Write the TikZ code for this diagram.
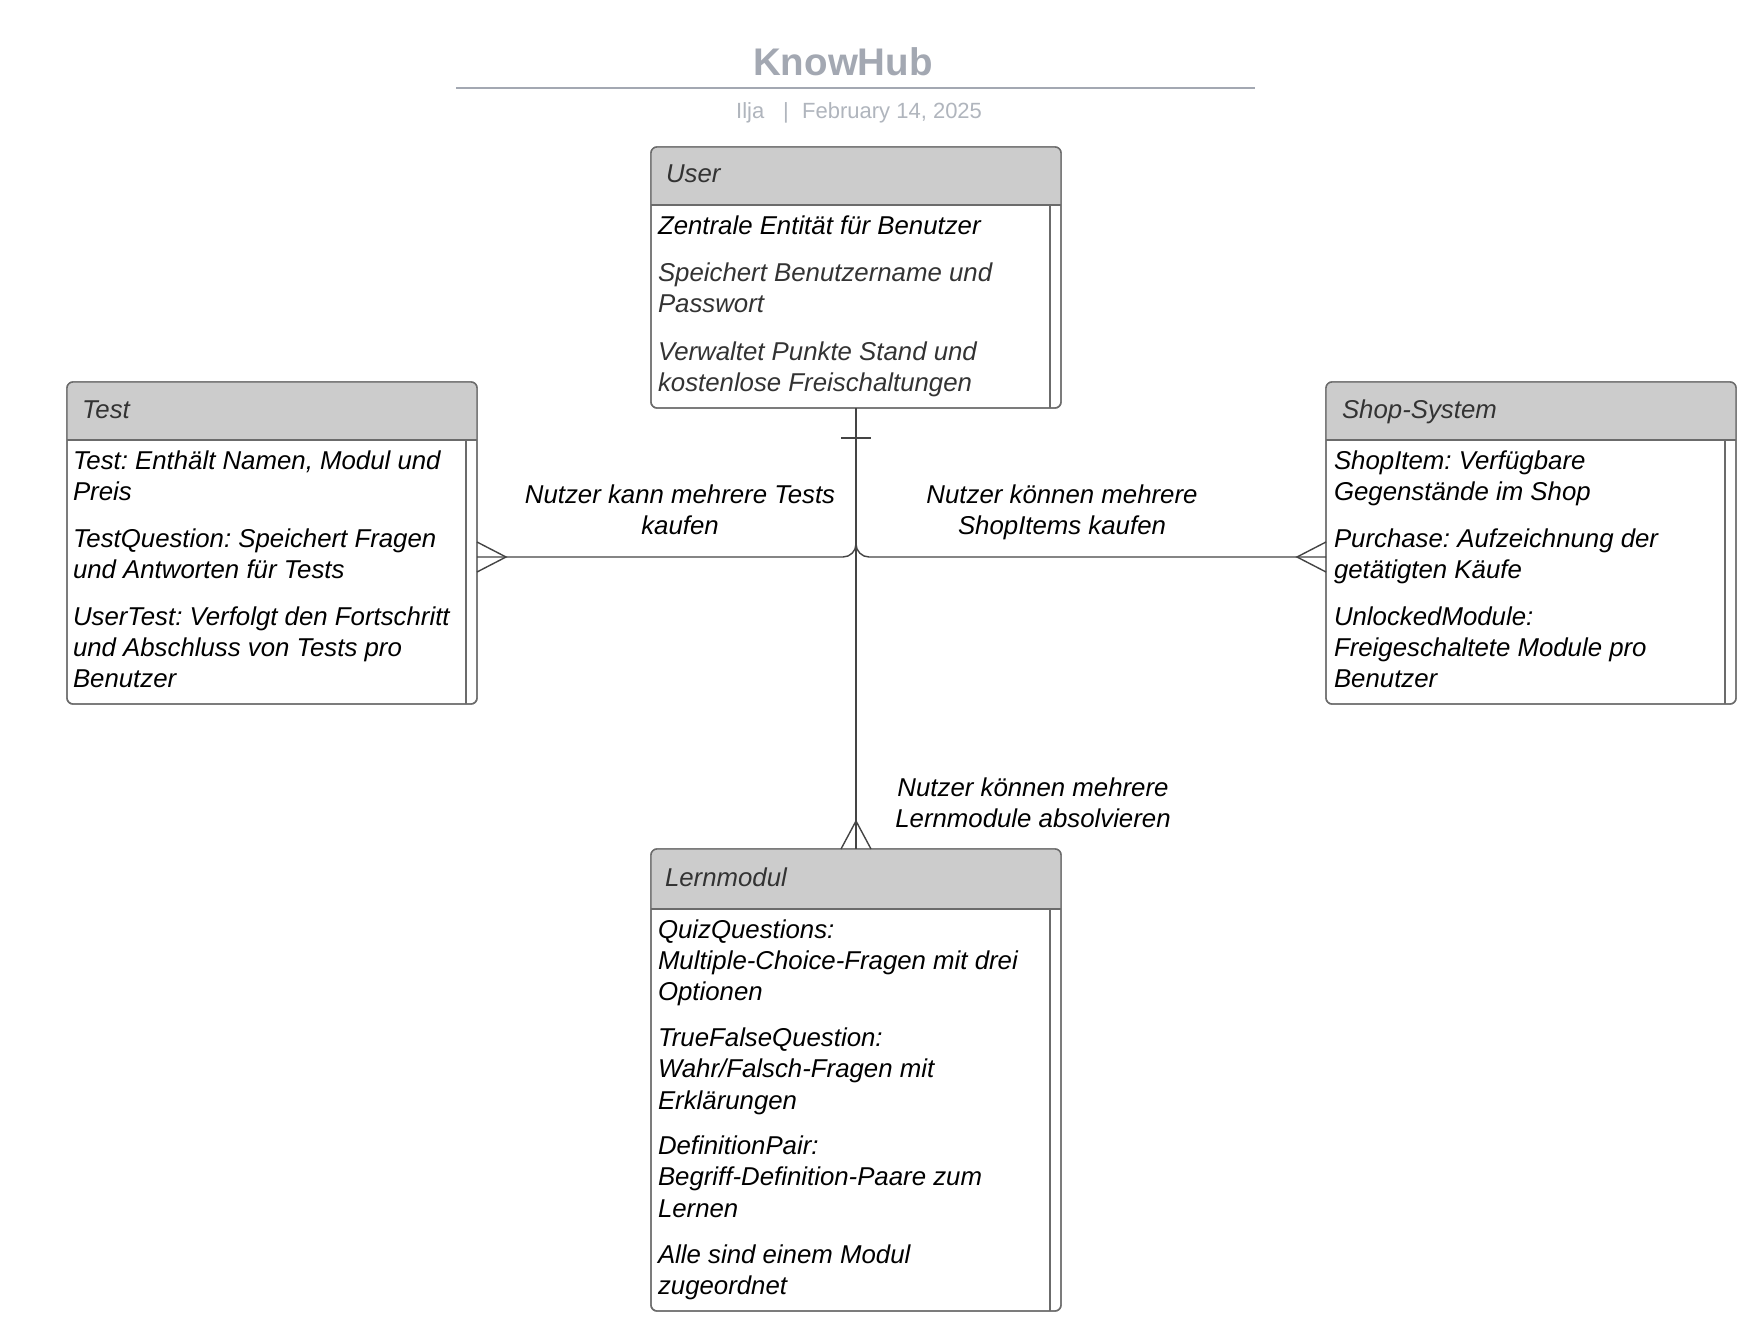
\documentclass[tikz,border=0pt]{standalone}
\usepackage{fontspec}
\setmainfont{Liberation Sans}
\usetikzlibrary{calc}
\frenchspacing

\definecolor{hdrfill}{HTML}{CCCCCC}
\definecolor{boxline}{HTML}{6B6B6B}
\definecolor{wirecol}{HTML}{444444}
\definecolor{titlegray}{HTML}{A3A8B2}
\definecolor{subgray}{HTML}{B0B5BD}
\definecolor{hdrtext}{HTML}{333333}

\tikzset{
  entity/.style={draw=boxline, line width=1.4pt, fill=white, rounded corners=6pt,
    inner sep=0pt, outer sep=0pt, anchor=north west},
  bodytext/.style={anchor=base west, inner sep=0pt, outer sep=0pt, yshift=-2pt,
    font=\fontsize{25.8}{31}\selectfont\itshape, text=black},
  softtext/.style={bodytext, text=hdrtext},
  headtext/.style={bodytext, text=hdrtext},
  reltext/.style={anchor=base, inner sep=0pt, outer sep=0pt, yshift=-2pt,
    font=\fontsize{25.8}{31}\selectfont\itshape, text=black},
  wire/.style={draw=wirecol, line width=1.4pt},
}

% ER entity: name, left, top, width, height, header height
\newcommand\erentity[6]{%
  \node[entity, minimum width=#4pt, minimum height=#5pt] (#1) at (#2,#3) {};
  \begin{scope}
    \clip[rounded corners=6pt] (#1.north west) rectangle (#1.south east);
    \fill[hdrfill] (#1.north west) rectangle ([yshift=-#6pt]#1.north east);
  \end{scope}
  \draw[draw=boxline, line width=1.4pt, rounded corners=6pt]
    (#1.north west) rectangle (#1.south east);
  \draw[draw=boxline, line width=1.4pt]
    ([yshift=-#6pt]#1.north west) -- ([yshift=-#6pt]#1.north east);
  \draw[draw=boxline, line width=1.4pt]
    ([xshift=-11pt,yshift=-#6pt]#1.north east) -- ([xshift=-11pt]#1.south east);
}

\begin{document}
\begin{tikzpicture}[x=1pt, y=-1pt]
  \useasboundingbox[fill=white] (0,0) rectangle (1746,1340);

  % title block
  \node[anchor=base, inner sep=0pt, font=\fontsize{38.5}{44}\selectfont\bfseries,
        text=titlegray] (title) at (843,76) {KnowHub};
  \coordinate (rulel) at (456,88);
  \coordinate (ruler) at (1255,88);
  \draw[titlegray, line width=2pt] (rulel) -- (ruler);
  \node[anchor=base west, inner sep=0pt, font=\fontsize{22}{26}\selectfont,
        text=subgray] (author) at (736,119) {Ilja};
  \node[anchor=base, inner sep=0pt, font=\fontsize{22}{26}\selectfont,
        text=subgray] (sep) at (786,119) {|};
  \node[anchor=base west, inner sep=0pt, font=\fontsize{22}{26}\selectfont,
        text=subgray] (date) at (802,119) {February 14, 2025};

  % entities
  \erentity{user}{651}{147}{410}{261}{58}
  \erentity{test}{67}{382}{410}{322}{58}
  \erentity{shop}{1326}{382}{410}{322}{58}
  \erentity{lern}{651}{849}{410}{462}{60}

  % User
  \node[headtext] (userh) at (666,181) {User};
  \node[bodytext] (user1) at (658,233) {Zentrale Entität für Benutzer};
  \node[softtext] (user2) at (658,280) {Speichert Benutzername und};
  \node[softtext] (user3) at (658,311) {Passwort};
  \node[softtext] (user4) at (658,358) {Verwaltet Punkte Stand und};
  \node[softtext] (user5) at (658,389) {kostenlose Freischaltungen};

  % Test
  \node[headtext] (testh) at (82,416) {Test};
  \node[bodytext] (test1) at (73,467) {Test: Enthält Namen, Modul und};
  \node[bodytext] (test2) at (73,498) {Preis};
  \node[bodytext] (test3) at (73,545) {TestQuestion: Speichert Fragen};
  \node[bodytext] (test4) at (73,576) {und Antworten für Tests};
  \node[bodytext] (test5) at (73,623) {UserTest: Verfolgt den Fortschritt};
  \node[bodytext] (test6) at (73,654) {und Abschluss von Tests pro};
  \node[bodytext] (test7) at (73,685) {Benutzer};

  % Shop-System
  \node[headtext] (shoph) at (1342,416) {Shop-System};
  \node[bodytext] (shop1) at (1334,467) {ShopItem: Verfügbare};
  \node[bodytext] (shop2) at (1334,498) {Gegenstände im Shop};
  \node[bodytext] (shop3) at (1334,545) {Purchase: Aufzeichnung der};
  \node[bodytext] (shop4) at (1334,576) {getätigten Käufe};
  \node[bodytext] (shop5) at (1334,623) {UnlockedModule:};
  \node[bodytext] (shop6) at (1334,654) {Freigeschaltete Module pro};
  \node[bodytext] (shop7) at (1334,685) {Benutzer};

  % Lernmodul
  \node[headtext] (lernh) at (665,884) {Lernmodul};
  \node[bodytext] (lern1) at (658,936) {QuizQuestions:};
  \node[bodytext] (lern2) at (658,967) {Multiple-Choice-Fragen mit drei};
  \node[bodytext] (lern3) at (658,998) {Optionen};
  \node[bodytext] (lern4) at (658,1044) {TrueFalseQuestion:};
  \node[bodytext] (lern5) at (658,1075) {Wahr/Falsch-Fragen mit};
  \node[bodytext] (lern6) at (658,1107) {Erklärungen};
  \node[bodytext] (lern7) at (658,1152) {DefinitionPair:};
  \node[bodytext] (lern8) at (658,1183) {Begriff-Definition-Paare zum};
  \node[bodytext] (lern9) at (658,1215) {Lernen};
  \node[bodytext] (lern10) at (658,1261) {Alle sind einem Modul};
  \node[bodytext] (lern11) at (658,1292) {zugeordnet};

  % relationships
  \draw[wire, rounded corners=13pt] (user.south) |- ([yshift=-14pt]test.east);
  \draw[wire, rounded corners=13pt] (user.south) |- ([yshift=-14pt]shop.west);
  \draw[wire] (user.south) -- (lern.north);

  % one-side bar at User
  \coordinate (ubar) at ([yshift=-30pt]user.south);
  \draw[wire] ($(ubar)+(-15,0)$) -- ($(ubar)+(15,0)$);

  % crow's feet (many side)
  \coordinate (tfoot) at ([yshift=-14pt]test.east);
  \draw[wire] ($(tfoot)+(0,-15)$) -- ($(tfoot)+(29,0)$) -- ($(tfoot)+(0,15)$);
  \coordinate (sfoot) at ([yshift=-14pt]shop.west);
  \draw[wire] ($(sfoot)+(0,-15)$) -- ($(sfoot)+(-29,0)$) -- ($(sfoot)+(0,15)$);
  \coordinate (lfoot) at (lern.north);
  \draw[wire] ($(lfoot)+(-15,0)$) -- ($(lfoot)+(0,-28)$) -- ($(lfoot)+(15,0)$);

  % relationship labels
  \node[reltext] (rt1) at (680,501) {Nutzer kann mehrere Tests};
  \node[reltext] (rt2) at (680,532) {kaufen};
  \node[reltext] (rs1) at (1062,501) {Nutzer können mehrere};
  \node[reltext] (rs2) at (1062,532) {ShopItems kaufen};
  \node[reltext] (rl1) at (1033,794) {Nutzer können mehrere};
  \node[reltext] (rl2) at (1033,825) {Lernmodule absolvieren};
\end{tikzpicture}
\end{document}
